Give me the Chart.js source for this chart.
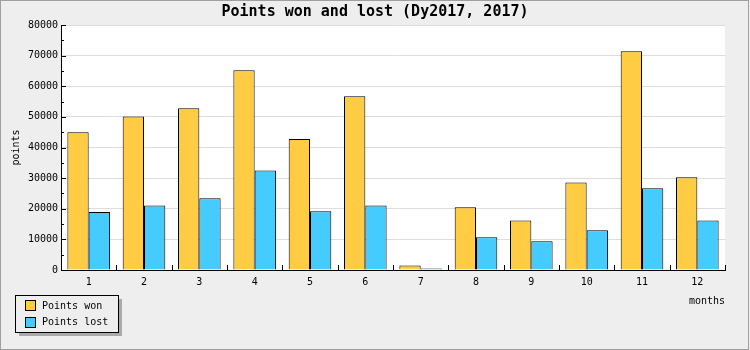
<!DOCTYPE html>
<html>
<head>
<meta charset="utf-8">
<script src="https://cdn.jsdelivr.net/npm/chart.js@4"></script>
<style>
  html, body { margin: 0; padding: 0; background: #eeeeee; }
  #wrap { width: 750px; height: 350px; }
</style>
</head>
<body>
<div id="wrap"><canvas id="myCanvas" width="750" height="350"></canvas></div>
<script>
const months = ["1", "2", "3", "4", "5", "6", "7", "8", "9", "10", "11", "12"];
const pointsWon = [45000, 50100, 52800, 65200, 42800, 56700, 1500, 20500, 16200, 28600, 71400, 30300];
const pointsLost = [18900, 21100, 23400, 32500, 19200, 21100, 500, 10700, 9400, 13000, 26700, 16200];
const yTicks = [0, 10000, 20000, 30000, 40000, 50000, 60000, 70000, 80000];

const titleText = "Points won and lost (Dy2017, 2017)";
const monoFont = "'DejaVu Sans Mono', 'Liberation Mono', monospace";

// background, title, inner ticks, axis names, legend
const decorPlugin = {
  id: "decor",
  beforeDraw(chart) {
    const ctx = chart.ctx;
    const area = chart.chartArea;
    ctx.save();
    ctx.fillStyle = "#eeeeee";
    ctx.fillRect(0, 0, chart.width, chart.height);
    ctx.fillStyle = "#ffffff";
    ctx.fillRect(area.left, area.top, area.right - area.left, area.bottom - area.top);
    ctx.restore();
  },
  afterDraw(chart) {
    const ctx = chart.ctx;
    const area = chart.chartArea;
    const xScale = chart.scales.x;
    const yScale = chart.scales.y;
    ctx.save();

    // title
    ctx.fillStyle = "#000";
    ctx.font = "bold 15px " + monoFont;
    ctx.textAlign = "center";
    ctx.textBaseline = "middle";
    ctx.fillText(titleText, chart.width / 2, 12);

    // y ticks pointing inward
    ctx.strokeStyle = "#000";
    ctx.lineWidth = 1;
    ctx.beginPath();
    for (let v = 0; v <= 80000; v += 5000) {
      const py = Math.round(yScale.getPixelForValue(v)) + 0.5;
      const len = v % 10000 === 0 ? 5 : 3;
      ctx.moveTo(area.left, py);
      ctx.lineTo(area.left + len, py);
    }
    // x ticks at category boundaries, pointing up
    const step = xScale.getPixelForValue(1) - xScale.getPixelForValue(0);
    for (let i = 0; i <= months.length; i++) {
      const px = Math.round(xScale.getPixelForValue(i) - step / 2) + 0.5;
      ctx.moveTo(px, area.bottom);
      ctx.lineTo(px, area.bottom - 5);
    }
    ctx.stroke();

    // axis names
    ctx.font = "10px " + monoFont;
    ctx.textAlign = "right";
    ctx.fillText("months", area.right, 301);
    ctx.save();
    ctx.translate(16, (area.top + area.bottom) / 2);
    ctx.rotate(-Math.PI / 2);
    ctx.textAlign = "center";
    ctx.fillText("points", 0, 0);
    ctx.restore();

    // legend with shadow
    const lx = 15, ly = 295, lw = 103, lh = 37;
    ctx.fillStyle = "#aaaaaa";
    ctx.fillRect(lx + 4, ly + 4, lw, lh);
    ctx.fillStyle = "#eeeeee";
    ctx.fillRect(lx, ly, lw, lh);
    ctx.strokeStyle = "#000";
    ctx.strokeRect(lx + 0.5, ly + 0.5, lw, lh);
    chart.data.datasets.forEach((ds, i) => {
      const sy = 300 + i * 16.5;
      ctx.fillStyle = ds.backgroundColor;
      ctx.fillRect(25.5, Math.round(sy) + 0.5, 10, 10);
      ctx.strokeRect(25.5, Math.round(sy) + 0.5, 10, 10);
      ctx.fillStyle = "#000";
      ctx.textAlign = "left";
      ctx.textBaseline = "middle";
      ctx.fillText(ds.label, 42, sy + 6);
    });

    // outer frame
    ctx.strokeStyle = "#a0a0a0";
    ctx.strokeRect(0.5, 0.5, chart.width - 2, chart.height - 1);
    ctx.restore();
  }
};

const canvas = document.querySelector("#myCanvas");

const data = {
  labels: months,
  datasets: [
    {
      label: "Points won",
      data: pointsWon,
      backgroundColor: "#ffcc44",
      borderColor: "#000000",
      borderWidth: 1,
    },
    {
      label: "Points lost",
      data: pointsLost,
      backgroundColor: "#44ccff",
      borderColor: "#000000",
      borderWidth: 1,
    },
  ],
};

const config = {
  type: "bar",
  data: data,
  options: {
    responsive: false,
    animation: false,
    layout: { padding: { left: 0, right: 25, top: 25, bottom: 0 } },
    datasets: { bar: { categoryPercentage: 0.77, barPercentage: 1.0 } },
    plugins: {
      legend: { display: false },
      title: { display: false },
      tooltip: { enabled: false },
    },
    scales: {
      x: {
        grid: { display: false, drawTicks: false },
        border: { display: true, color: "#000", width: 1 },
        ticks: {
          color: "#000",
          padding: 6,
          maxRotation: 0,
          font: { family: monoFont, size: 10 },
        },
        afterFit(scale) {
          scale.height = 80;
        },
      },
      y: {
        min: 0,
        max: 80000,
        grid: {
          drawTicks: false,
          color: (c) => (c.tick && yTicks.includes(c.tick.value) ? "#dddddd" : "rgba(0,0,0,0)"),
        },
        border: { display: true, color: "#000", width: 1 },
        ticks: {
          stepSize: 5000,
          color: "#000",
          padding: 3,
          font: { family: monoFont, size: 10 },
          callback: (v) => (yTicks.includes(v) ? String(v) : ""),
        },
        afterFit(scale) {
          scale.width = 61;
        },
      },
    },
  },
  plugins: [decorPlugin],
};

const myChart = new Chart(canvas, config);
</script>
</body>
</html>
